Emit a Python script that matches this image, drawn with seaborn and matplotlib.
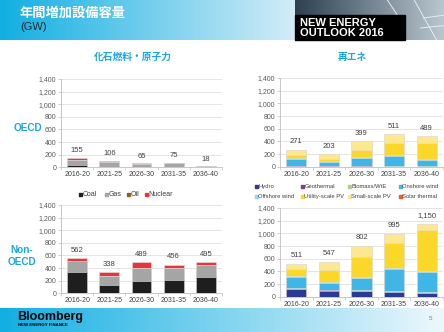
import numpy as np
import pandas as pd
import matplotlib
matplotlib.use("Agg")
import matplotlib.pyplot as plt
from matplotlib.patches import Rectangle
import seaborn as sns

sns.set_theme(style="white")
plt.rcParams["font.family"] = ["Liberation Sans", "Noto Sans CJK JP", "DejaVu Sans"]

# ---- data (GW of annual capacity additions) ----
periods = ["2016-20", "2021-25", "2026-30", "2031-35", "2036-40"]

fossil_names = ["Coal", "Gas", "Oil", "Nuclear"]
fossil_colors = ["#1e1e1e", "#a5a5a5", "#9a5a22", "#e8353b"]

oecd_coal = [30, 3, 2, 0, 0]
oecd_gas = [85, 88, 48, 70, 16]
oecd_oil = [0, 0, 0, 0, 0]
oecd_nuclear = [40, 15, 15, 5, 2]

non_coal = [345, 125, 200, 205, 262]
non_gas = [172, 150, 200, 195, 190]
non_oil = [0, 0, 0, 0, 0]
non_nuclear = [45, 63, 89, 56, 43]

renew_names = ["Hydro", "Geothermal", "Biomass/WtE", "Onshore wind",
               "Offshore wind", "Utility-scale PV", "Small-scale PV", "Solar thermal"]
renew_colors = ["#2b3a94", "#7a3d98", "#a6d38a", "#3fb6e6",
                "#93d5f2", "#fbd72a", "#fde88e", "#f15a24"]

oecd_hydro = [3, 3, 3, 2, 2]
oecd_geo = [1, 1, 1, 1, 1]
oecd_bio = [5, 4, 5, 5, 5]
oecd_onshore = [118, 65, 130, 160, 105]
oecd_offshore = [15, 20, 15, 20, 15]
oecd_utility_pv = [50, 30, 105, 190, 247]
oecd_small_pv = [79, 80, 140, 133, 114]
oecd_solar_th = [0, 0, 0, 0, 0]

non_hydro = [118, 95, 90, 68, 55]
non_geo = [5, 5, 5, 5, 5]
non_bio = [10, 12, 15, 17, 20]
non_onshore = [180, 103, 185, 350, 310]
non_offshore = [15, 15, 18, 17, 15]
non_utility_pv = [113, 190, 316, 393, 640]
non_small_pv = [70, 127, 173, 145, 105]
non_solar_th = [0, 0, 0, 0, 0]

yticks = [0, 200, 400, 600, 800, 1000, 1200, 1400]

W, H = 444, 332
fig = plt.figure(figsize=(W / 100, H / 100), dpi=100)
fig.patch.set_facecolor("white")


def rect(x0, y0, x1, y1):
    """Figure-fraction box from pixel edges (y measured from the top)."""
    return [x0 / W, 1 - y1 / H, (x1 - x0) / W, (y1 - y0) / H]


def gradient_band(box, c0, c1, zorder=0):
    ax = fig.add_axes(box, zorder=zorder)
    t = np.linspace(0, 1, 256)
    c0 = np.array(matplotlib.colors.to_rgb(c0))
    c1 = np.array(matplotlib.colors.to_rgb(c1))
    img = (c0[None, :] * (1 - t[:, None]) + c1[None, :] * t[:, None])[None, :, :]
    ax.imshow(img, aspect="auto", extent=[0, 1, 0, 1])
    ax.set_axis_off()
    return ax


# ---- header ----
gradient_band(rect(0, 0, 295, 40), "#12afe2", "#d3edf8")
photo = gradient_band(rect(295, 0, 444, 40), "#2d4050", "#b9c7cf")
photo.set_xlim(0, 1)
photo.set_ylim(0, 1)
for xs, ys in [([0.62, 0.70], [1.0, 0.55]), ([0.80, 0.95], [1.0, 0.0]),
               ([0.86, 1.0], [0.55, 0.62]), ([0.84, 1.0], [0.30, 0.36])]:
    photo.plot(xs, ys, color="#e6ecef", lw=0.7)
fig.add_artist(Rectangle((295 / W, 1 - 40 / H), 110 / W, 25 / H,
                         transform=fig.transFigure, color="black", zorder=5))
fig.text(20 / W, 1 - 13 / H, "年間増加設備容量", color="white", fontsize=9.5,
         fontweight="bold", va="center", ha="left")
fig.text(20 / W, 1 - 27.5 / H, "(GW)", color="#1e2a33", fontsize=8,
         va="center", ha="left")
fig.text(300 / W, 1 - 23 / H, "NEW ENERGY", color="white", fontsize=8,
         fontweight="bold", va="center", ha="left", zorder=6)
fig.text(300 / W, 1 - 32.5 / H, "OUTLOOK 2016", color="white", fontsize=8,
         fontweight="bold", va="center", ha="left", zorder=6)

# ---- footer ----
gradient_band(rect(0, 308, 444, 332), "#12afe2", "#eef8fc")
fig.text(17 / W, 1 - 317 / H, "Bloomberg", color="black", fontsize=9,
         fontweight="bold", va="center", ha="left")
fig.text(17.5 / W, 1 - 325.5 / H, "NEW ENERGY FINANCE", color="black", fontsize=3.2,
         fontweight="bold", va="center", ha="left")
fig.text(430 / W, 1 - 318 / H, "5", color="#7f7f7f", fontsize=4.5,
         va="center", ha="center")

# ---- section titles ----
cyan = "#1ea7de"
fig.text(133 / W, 1 - 57 / H, "化石燃料・原子力", color=cyan, fontsize=7,
         fontweight="bold", va="center", ha="center")
fig.text(352 / W, 1 - 57 / H, "再エネ", color=cyan, fontsize=7,
         fontweight="bold", va="center", ha="center")
fig.text(28 / W, 1 - 128 / H, "OECD", color=cyan, fontsize=7.2,
         fontweight="bold", va="center", ha="center")
fig.text(22 / W, 1 - 250 / H, "Non-", color=cyan, fontsize=7.2,
         fontweight="bold", va="center", ha="center")
fig.text(22 / W, 1 - 262 / H, "OECD", color=cyan, fontsize=7.2,
         fontweight="bold", va="center", ha="center")


def stacked_panel(box, layers, colors, label_offset):
    ax = fig.add_axes(box)
    df = pd.DataFrame({"period": periods})
    cum = np.zeros(len(periods))
    cols = []
    for k, layer in enumerate(layers):
        cum = cum + np.asarray(layer, dtype=float)
        df[f"c{k}"] = cum
        cols.append(f"c{k}")
    # tallest cumulative first, each lower segment painted over it
    for k in range(len(cols) - 1, -1, -1):
        sns.barplot(data=df, x="period", y=cols[k], color=colors[k], saturation=1,
                    width=0.62, errorbar=None, ax=ax, edgecolor="#e4e4e4",
                    linewidth=0.4, zorder=3)
    totals = df[cols[-1]].to_numpy()
    for i, tot in enumerate(totals):
        ax.annotate(f"{int(round(tot)):,}", (i, tot), xytext=(0, label_offset),
                    textcoords="offset points", ha="center", va="center",
                    fontsize=5.5, color="#404040")
    ax.set_ylim(0, 1400)
    ax.set_xlim(-0.5, len(periods) - 0.5)
    ax.set_yticks(yticks)
    ax.set_yticklabels([f"{v:,}" for v in yticks])
    ax.yaxis.grid(True, color="#d9d9d9", lw=0.5, zorder=0)
    ax.set_axisbelow(True)
    ax.set_xlabel("")
    ax.set_ylabel("")
    for s in ["top", "right"]:
        ax.spines[s].set_visible(False)
    for s in ["left", "bottom"]:
        ax.spines[s].set_color("#bfbfbf")
        ax.spines[s].set_linewidth(0.6)
    ax.tick_params(axis="y", which="major", length=2, width=0.5, color="#bfbfbf",
                   pad=1.5, labelsize=5, labelcolor="#595959", left=True)
    ax.tick_params(axis="x", which="major", length=0, pad=3, labelsize=5,
                   labelcolor="#404040")
    ax.set_xticks(np.arange(-0.5, len(periods)), minor=True)
    ax.tick_params(axis="x", which="minor", length=2.5, width=0.5, color="#bfbfbf",
                   bottom=True)
    ax.set_facecolor("white")
    return ax


stacked_panel(rect(61, 79, 222, 167.3),
              [oecd_coal, oecd_gas, oecd_oil, oecd_nuclear], fossil_colors, 5)
stacked_panel(rect(280, 78, 443, 166.7),
              [oecd_hydro, oecd_geo, oecd_bio, oecd_onshore, oecd_offshore,
               oecd_utility_pv, oecd_small_pv, oecd_solar_th], renew_colors, 5.5)
stacked_panel(rect(61, 205, 222, 293.3),
              [non_coal, non_gas, non_oil, non_nuclear], fossil_colors, 5.5)
stacked_panel(rect(280, 208, 443, 296.7),
              [non_hydro, non_geo, non_bio, non_onshore, non_offshore,
               non_utility_pv, non_small_pv, non_solar_th], renew_colors, 6)


def legend_item(x, y, color, text, size):
    s = 3.0
    fig.add_artist(Rectangle(((x - s / 2) / W, 1 - (y + s / 2) / H), s / W, s / H,
                             transform=fig.transFigure, color=color, zorder=6))
    fig.text((x + 2.3) / W, 1 - y / H, text, fontsize=size, color="#404040",
             va="center", ha="left", zorder=6)


# fossil legend
for x, name, col in zip([80, 106, 128, 146], fossil_names, fossil_colors):
    legend_item(x, 194, col, name, 5)

# renewables legend, two rows
renew_x = [256, 302, 349, 400, 256, 302, 349, 400]
renew_y = [186.5] * 4 + [196.5] * 4
for x, y, name, col in zip(renew_x, renew_y, renew_names, renew_colors):
    legend_item(x, y, col, name, 4.2)

fig.savefig("out.png", dpi=100, facecolor="white")
